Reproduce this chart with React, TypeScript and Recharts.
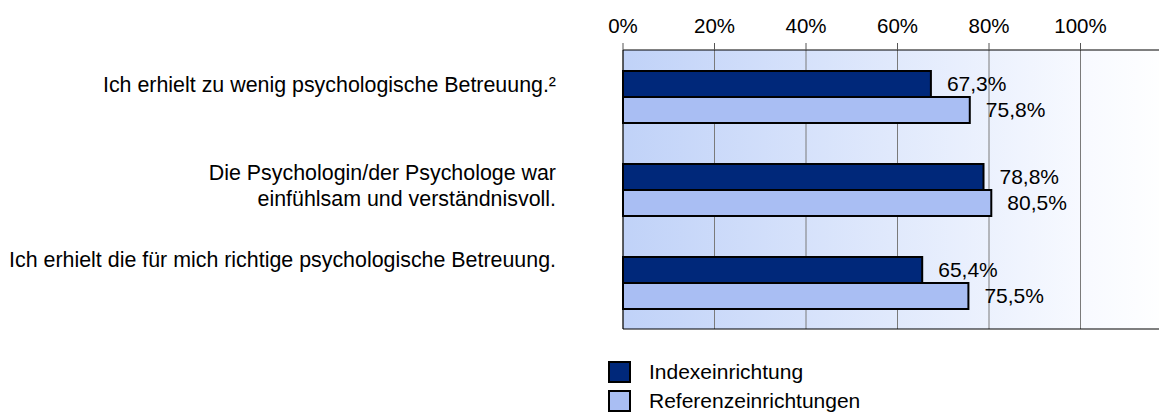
import { Bar, BarChart, CartesianGrid, LabelList, Legend, XAxis, YAxis } from "recharts";

// Aussagen (Zeilen) und Anteile in Prozent
const aussagen = [
  "Ich erhielt zu wenig psychologische Betreuung.²",
  "Die Psychologin/der Psychologe war\neinfühlsam und verständnisvoll.",
  "Ich erhielt die für mich richtige psychologische Betreuung.",
];
const indexWerte = [67.3, 78.8, 65.4];
const referenzWerte = [75.8, 80.5, 75.5];
const achsenTicks = [0, 20, 40, 60, 80, 100];
const serienNamen = ["Indexeinrichtung", "Referenzeinrichtungen"];

const daten = aussagen.map((a, i) => ({ aussage: a, index: indexWerte[i], referenz: referenzWerte[i] }));

const FONT = "'Liberation Sans', Arial, sans-serif";
const FS = 21;
const MAU_DUNKEL = "#00287a";
const MAU_HELL = "#a9bef3";

// Beschriftungen links sitzen im Original nicht mittig zur Gruppe
const LABEL_VERSATZ = [-12, -4, -23];
const ZEILENABSTAND = 26;

const prozent = (v: any) => `${Number(v).toFixed(1).replace(".", ",")}%`;

function KategorieTick(props: any) {
  const { x, y, payload, index } = props;
  const zeilen = String(payload.value).split("\n");
  const startY = y + (LABEL_VERSATZ[index] ?? 0) - ((zeilen.length - 1) * ZEILENABSTAND) / 2;
  return (
    <text x={x} y={startY} textAnchor="end" fontSize={21.4} fontFamily={FONT} fill="#000">
      {zeilen.map((z, i) => (
        <tspan key={i} x={x} y={startY + i * ZEILENABSTAND} dy="0.36em">
          {z}
        </tspan>
      ))}
    </text>
  );
}

function Legende() {
  const farben = [MAU_DUNKEL, MAU_HELL];
  return (
    <div style={{ fontFamily: FONT, fontSize: FS, color: "#000" }}>
      {serienNamen.map((n, i) => (
        <div key={n} style={{ display: "flex", alignItems: "center", height: 29 }}>
          <span
            style={{
              display: "inline-block",
              width: 19,
              height: 18,
              background: farben[i],
              border: "2px solid #000",
              marginRight: 18,
            }}
          />
          <span>{n}</span>
        </div>
      ))}
    </div>
  );
}

export default function App() {
  return (
    <div
      style={{
        position: "absolute",
        left: 0,
        top: 0,
        width: 1159,
        height: 413,
        overflow: "hidden",
        background: "#fff",
      }}
    >
      <BarChart
        width={1185}
        height={413}
        data={daten}
        layout="vertical"
        margin={{ top: 20, right: 13, bottom: 83, left: 0 }}
        barGap={0}
        barSize={26}
      >
        <defs>
          <linearGradient id="hintergrund" x1="0" y1="0" x2="1" y2="0">
            <stop offset="0%" stopColor="#c0d2f8" />
            <stop offset="85%" stopColor="#f8faff" />
            <stop offset="100%" stopColor="#ffffff" />
          </linearGradient>
        </defs>
        <CartesianGrid
          xAxisId="oben"
          horizontal={false}
          stroke="#7a7a7a"
          fill="url(#hintergrund)"
          fillOpacity={1}
        />
        <XAxis
          xAxisId="oben"
          type="number"
          orientation="top"
          domain={[0, 120]}
          ticks={achsenTicks}
          tickFormatter={(v) => `${v}%`}
          axisLine={{ stroke: "#000" }}
          tickLine={{ stroke: "#555" }}
          tickSize={7}
          tickMargin={10}
          tick={{ fontSize: 20.5, fontFamily: FONT, fill: "#000" }}
          interval={0}
        />
        <XAxis
          xAxisId="unten"
          type="number"
          orientation="bottom"
          domain={[0, 120]}
          tick={false}
          tickLine={false}
          axisLine={{ stroke: "#000" }}
          height={1}
        />
        <YAxis
          type="category"
          dataKey="aussage"
          width={623}
          axisLine={{ stroke: "#000" }}
          tickLine={false}
          tickSize={0}
          tickMargin={67}
          tick={<KategorieTick />}
          interval={0}
        />
        <Legend
          content={<Legende />}
          layout="vertical"
          align="center"
          verticalAlign="middle"
          wrapperStyle={{ position: "absolute", left: 608, top: 357, width: 300 }}
        />
        <Bar
          xAxisId="oben"
          dataKey="index"
          name={serienNamen[0]}
          fill={MAU_DUNKEL}
          stroke="#000"
          strokeWidth={2}
          isAnimationActive={false}
        >
          <LabelList
            dataKey="index"
            position="right"
            offset={16}
            formatter={prozent}
            style={{ fontSize: FS, fontFamily: FONT, fill: "#000" }}
          />
        </Bar>
        <Bar
          xAxisId="oben"
          dataKey="referenz"
          name={serienNamen[1]}
          fill={MAU_HELL}
          stroke="#000"
          strokeWidth={2}
          isAnimationActive={false}
        >
          <LabelList
            dataKey="referenz"
            position="right"
            offset={16}
            formatter={prozent}
            style={{ fontSize: FS, fontFamily: FONT, fill: "#000" }}
          />
        </Bar>
      </BarChart>
    </div>
  );
}
